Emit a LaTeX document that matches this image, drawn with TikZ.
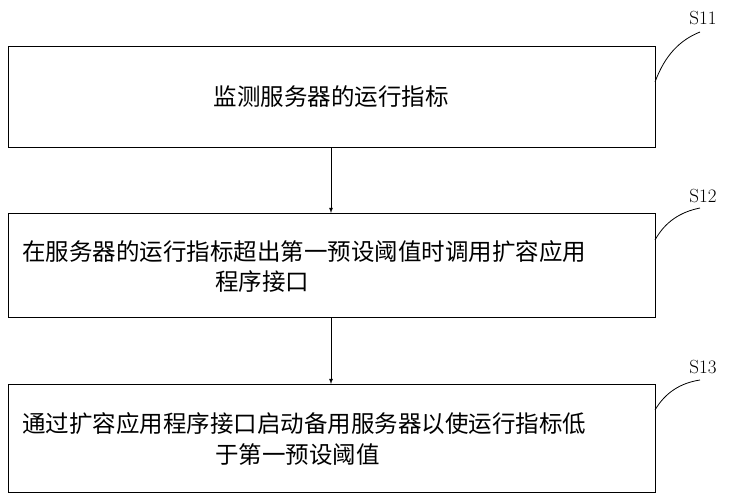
\documentclass[tikz,border=0pt]{standalone}
\usepackage{fontspec}
\newfontfamily\cjk{Noto Sans CJK SC}
\begin{document}
\begin{tikzpicture}[x=1pt,y=-1pt,
  box/.style={draw,line width=1pt},
  txt/.style={font=\cjk\fontsize{23.5}{28}\selectfont,inner sep=0pt},
  lab/.style={font=\fontsize{19}{22}\selectfont,inner sep=0pt},
  arr/.style={-latex,line width=0.8pt}]
\useasboundingbox (0,0) rectangle (733,500);
\draw[box] (8,47) rectangle (655,147);
\draw[box] (8,213) rectangle (655,317);
\draw[box] (8,384) rectangle (655,492);
\coordinate (b1b) at (331,147); \coordinate (b2t) at (331,213);
\coordinate (b2b) at (331,317); \coordinate (b3t) at (331,384);
\node[txt] (t1) at (331,97) {监测服务器的运行指标};
\node[txt,anchor=west] (t2a) at (22,252) {在服务器的运行指标超出第一预设阈值时调用扩容应用};
\node[txt,anchor=west] (t2b) at (215,282) {程序接口};
\node[txt,anchor=west] (t3a) at (22,424) {通过扩容应用程序接口启动备用服务器以使运行指标低};
\node[txt,anchor=west] (t3b) at (215,455) {于第一预设阈值};
\draw[arr] (b1b) -- (b2t);
\draw[arr] (b2b) -- (b3t);
\node[lab] (s1) at (703,18) {S11};
\node[lab] (s2) at (703,196) {S12};
\node[lab] (s3) at (703,367) {S13};
\draw[line width=0.8pt] (655,82) .. controls (665,55) and (680,40) .. (700,32);
\draw[line width=0.8pt] (655,240) .. controls (665,222) and (680,212) .. (700,208);
\draw[line width=0.8pt] (655,410) .. controls (665,393) and (680,383) .. (700,380);
\end{tikzpicture}
\end{document}
